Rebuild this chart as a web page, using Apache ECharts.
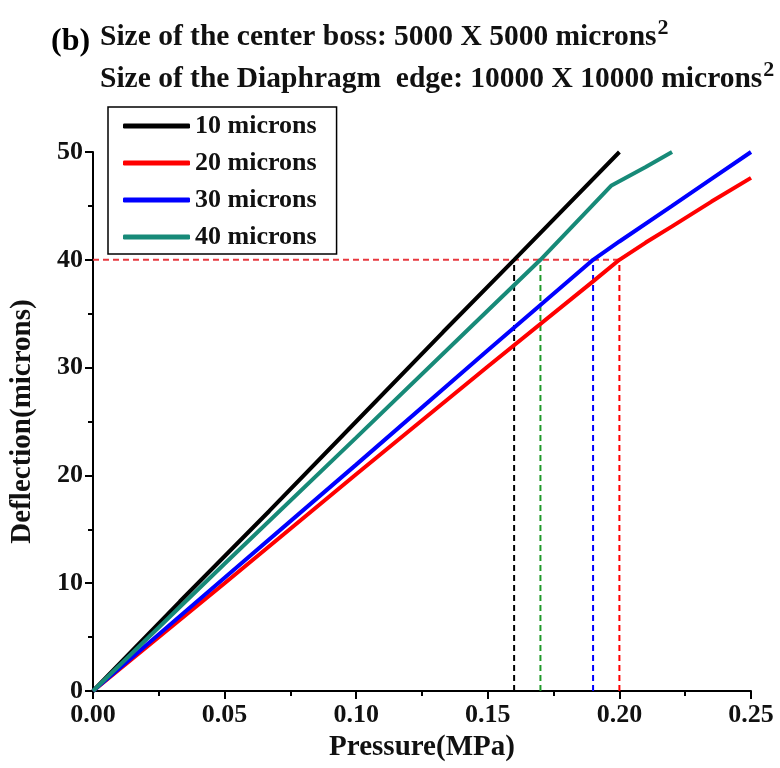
<!DOCTYPE html>
<html>
<head>
<meta charset="utf-8">
<script src="https://cdn.jsdelivr.net/npm/echarts@6/dist/echarts.min.js"></script>
<style>
  html, body { margin: 0; padding: 0; background: #fff; }
  #chart { width: 780px; height: 768px; }
</style>
</head>
<body>
<div id="chart"></div>
<script>
// Deflection of the diaphragm vs applied pressure, for four diaphragm thicknesses
const seriesNames = ['10 microns', '20 microns', '30 microns', '40 microns'];
const seriesColors = ['#000000', '#ff0000', '#0000ff', '#178a78'];

// [pressure (MPa), deflection (microns)]
const thick10 = [[0, 0], [0.033, 8.3], [0.067, 16.7], [0.1, 25.0], [0.133, 33.3], [0.16, 40.0], [0.2, 50.0]];
const thick20 = [[0, 0], [0.05, 10.0], [0.1, 20.1], [0.15, 30.1], [0.19, 38.0], [0.2, 40.0], [0.21, 41.6], [0.22, 43.1], [0.235, 45.4], [0.25, 47.6]];
const thick30 = [[0, 0], [0.05, 10.5], [0.1, 21.0], [0.15, 31.6], [0.19, 40.0], [0.2, 41.7], [0.22, 45.0], [0.235, 47.5], [0.25, 50.0]];
const thick40 = [[0, 0], [0.05, 11.8], [0.1, 23.5], [0.15, 35.3], [0.17, 40.0], [0.197, 46.9], [0.21, 48.6], [0.22, 50.0]];

// pressure where each curve reaches the 40 micron level
const levelY = 40;
const crossX = [0.16, 0.2, 0.19, 0.17];
const crossColors = ['#000000', '#ff0000', '#0000ff', '#1f9a2a'];

const xTicks = { min: 0, max: 0.25, interval: 0.05 };
const yTicks = { min: 0, max: 50, interval: 10 };

const titleLines = [
  'Size of the center boss: 5000 X 5000 microns',
  'Size of the Diaphragm  edge: 10000 X 10000 microns'
];

const serif = '"Liberation Serif", "Times New Roman", serif';

const chart = echarts.init(document.getElementById('chart'), null, { renderer: 'canvas' });

const curveData = [thick10, thick20, thick30, thick40];
const curves = seriesNames.map((name, i) => ({
  name: name,
  type: 'line',
  data: curveData[i],
  showSymbol: false,
  symbol: 'none',
  smooth: false,
  z: 3,
  lineStyle: { color: seriesColors[i], width: 4 },
  itemStyle: { color: seriesColors[i] }
}));

const dashStyle = [6, 4];
const guides = [{
  name: 'level',
  type: 'line',
  data: [[0, levelY], [Math.max(...crossX), levelY]],
  symbol: 'none',
  z: 2,
  lineStyle: { color: '#e8393f', width: 2, type: dashStyle }
}].concat(crossX.map((x, i) => ({
  name: 'drop' + i,
  type: 'line',
  data: [[x, 0], [x, levelY]],
  symbol: 'none',
  z: 2,
  lineStyle: { color: crossColors[i], width: 2, type: dashStyle }
})));

const headingRich = {
  t: { fontFamily: serif, fontWeight: 'bold', fontSize: 29.5, color: '#111' },
  s: { fontFamily: serif, fontWeight: 'bold', fontSize: 22, color: '#111', padding: [0, 0, 19, 1] }
};

const option = {
  backgroundColor: '#ffffff',
  animation: false,
  title: [
    {
      text: '(b)',
      left: 46, top: 21,
      textStyle: { fontFamily: serif, fontWeight: 'bold', fontSize: 32, color: '#000' }
    },
    {
      text: '{t|' + titleLines[0] + '}{s|2}',
      left: 95, top: 12,
      textStyle: { rich: headingRich }
    },
    {
      text: '{t|' + titleLines[1] + '}{s|2}',
      left: 95, top: 54,
      textStyle: { rich: headingRich }
    }
  ],
  legend: {
    data: seriesNames,
    orient: 'vertical',
    left: 108, top: 107,
    backgroundColor: '#fff',
    borderColor: '#000',
    borderWidth: 1.5,
    borderRadius: 0,
    padding: [6, 20, 4, 15],
    itemGap: 11,
    itemWidth: 67,
    itemHeight: 5,
    icon: 'roundRect',
    textStyle: { fontFamily: serif, fontWeight: 'bold', fontSize: 26, color: '#111', lineHeight: 26 }
  },
  grid: { left: 92, right: 29, top: 152, bottom: 77, containLabel: false },
  xAxis: {
    type: 'value',
    min: xTicks.min, max: xTicks.max, interval: xTicks.interval,
    name: 'Pressure(MPa)',
    nameLocation: 'middle',
    nameGap: 38,
    nameTextStyle: { fontFamily: serif, fontWeight: 'bold', fontSize: 29, color: '#111' },
    axisLine: { show: true, onZero: false, lineStyle: { color: '#000', width: 2 } },
    axisTick: { show: true, inside: false, length: 8, lineStyle: { color: '#000', width: 2 } },
    minorTick: { show: true, splitNumber: 2, length: 5, lineStyle: { color: '#000', width: 2 } },
    splitLine: { show: false },
    axisLabel: {
      fontFamily: serif, fontWeight: 'bold', fontSize: 26, color: '#111', margin: 11,
      formatter: v => v.toFixed(2)
    }
  },
  yAxis: {
    type: 'value',
    min: yTicks.min, max: yTicks.max, interval: yTicks.interval,
    name: 'Deflection(microns)',
    nameLocation: 'middle',
    nameGap: 56,
    nameRotate: 90,
    nameTextStyle: { fontFamily: serif, fontWeight: 'bold', fontSize: 29, color: '#111' },
    axisLine: { show: true, onZero: false, lineStyle: { color: '#000', width: 2 } },
    axisTick: { show: true, inside: false, length: 8, lineStyle: { color: '#000', width: 2 } },
    minorTick: { show: true, splitNumber: 2, length: 5, lineStyle: { color: '#000', width: 2 } },
    splitLine: { show: false },
    axisLabel: { fontFamily: serif, fontWeight: 'bold', fontSize: 26, color: '#111', margin: 10 }
  },
  series: guides.concat(curves)
};

chart.setOption(option);
</script>
</body>
</html>
